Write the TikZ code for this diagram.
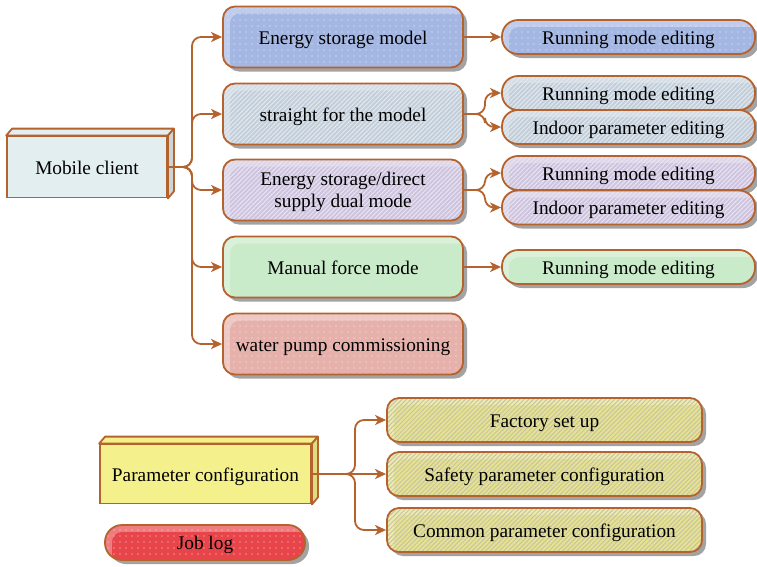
\documentclass[tikz,border=0pt]{standalone}
\usepackage{fontspec}
\setmainfont{Liberation Serif}
\usetikzlibrary{arrows.meta,shadows,patterns.meta,calc}

\definecolor{edge}{HTML}{B4622E}
\definecolor{clientfill}{HTML}{E3EEF0}
\definecolor{bluefill}{HTML}{A4B6E2}
\definecolor{grayfill}{HTML}{C2CEDA}
\definecolor{lilacfill}{HTML}{CEC4DF}
\definecolor{greenfill}{HTML}{C9EBC9}
\definecolor{pinkfill}{HTML}{E6B0AB}
\definecolor{paramfill}{HTML}{F4F08C}
\definecolor{olivefill}{HTML}{E6E290}
\definecolor{olivestripe}{HTML}{C6C4A2}
\definecolor{redfill}{HTML}{E8454A}

\begin{document}
\begin{tikzpicture}[x=1pt,y=-1pt,
  every node/.style={font=\fontsize{19.3}{22}\selectfont, text=black, text height=18.5pt, text depth=4.5pt},
  conn/.style={draw=edge, line width=1.8pt, rounded corners=9pt},
  arr/.style={conn, -{Stealth[length=11pt,width=10pt,inset=3pt]}},
  boxshadow/.style={drop shadow={shadow xshift=4pt, shadow yshift=-4pt, fill=black!36, opacity=1}},
  % bevelled fill: light rim at top/left, main colour inside
  dotted fill/.style={fill=#1!70!white,
    path picture={
      \fill[#1, rounded corners=10pt] ($(path picture bounding box.north west)+(7,7)$) rectangle ($(path picture bounding box.south east)+(4,4)$);
      \fill[pattern={Dots[distance=6pt,radius=0.55pt]}, pattern color=white!80!#1] (path picture bounding box.north west) rectangle (path picture bounding box.south east);
    }},
  striped fill/.style 2 args={fill=#1!70!white,
    path picture={
      \fill[#1, rounded corners=10pt] ($(path picture bounding box.north west)+(7,7)$) rectangle ($(path picture bounding box.south east)+(4,4)$);
      \fill[pattern={Lines[angle=45,distance=3.2pt,line width=1pt]}, pattern color=#2] (path picture bounding box.north west) rectangle (path picture bounding box.south east);
    }},
  plain fill/.style={fill=#1!70!white,
    path picture={
      \fill[#1, rounded corners=10pt] ($(path picture bounding box.north west)+(7,7)$) rectangle ($(path picture bounding box.south east)+(4,4)$);
    }},
  modebox/.style={draw=edge, line width=1.8pt, rounded corners=12pt, minimum width=240pt, minimum height=61pt, align=center, boxshadow},
  editbox/.style={draw=edge, line width=1.8pt, rounded corners=16pt, minimum width=253pt, minimum height=34pt, boxshadow},
  configbox/.style={draw=edge, line width=1.8pt, rounded corners=12pt, minimum width=315pt, minimum height=44pt, boxshadow},
  frontface/.style={draw=edge, line width=1.8pt, fill=#1},
  sideface/.style={draw=edge, line width=1.8pt, fill=#1, line join=round},
]
\useasboundingbox (0,0) rectangle (757,566);

% ---- mobile client (block) ----
\node[frontface=clientfill, minimum width=160pt, minimum height=61pt] (mc) at (87,167) {Mobile client};
\draw[sideface=clientfill] (mc.north west) -- ++(6,-7) -- ($(mc.north east)+(6,-7)$) -- (mc.north east) -- cycle;
\draw[sideface=clientfill!90!black] (mc.north east) -- ++(6,-7) -- ($(mc.south east)+(6,-7)$) -- (mc.south east) -- cycle;

% ---- operating modes ----
\node[modebox, dotted fill=bluefill] (m1) at (343,37) {Energy storage model};
\node[modebox, striped fill={grayfill}{white!55!grayfill}] (m2) at (343,114) {straight for the model};
\node[modebox, striped fill={lilacfill}{white!55!lilacfill}, text height=39.5pt, text depth=4.5pt] (m3) at (343,190) {Energy storage/direct\\supply dual mode};
\node[modebox, plain fill=greenfill] (m4) at (343,267) {Manual force mode};
\node[modebox, dotted fill=pinkfill] (m5) at (343,344) {water pump commissioning};

% ---- editing pages ----
\node[editbox, dotted fill=bluefill] (e1) at (628.5,37) {Running mode editing};
\node[editbox, striped fill={grayfill}{white!55!grayfill}] (e2a) at (628.5,93) {Running mode editing};
\node[editbox, striped fill={grayfill}{white!55!grayfill}] (e2b) at (628.5,127) {Indoor parameter editing};
\node[editbox, striped fill={lilacfill}{white!55!lilacfill}] (e3a) at (628.5,173) {Running mode editing};
\node[editbox, striped fill={lilacfill}{white!55!lilacfill}] (e3b) at (628.5,207.5) {Indoor parameter editing};
\node[editbox, plain fill=greenfill] (e4) at (628.5,267) {Running mode editing};

% ---- connectors from the client ----
\coordinate (jc) at (192,167);
\foreach \t in {m1,m2,m3,m4,m5}
  \draw[arr] (mc.east) -- (jc) |- (\t.west);
\draw[arr] (m1.east) -- (e1.west);
\coordinate (j2) at (485,114);
\draw[arr] (m2.east) -- (j2) |- (e2a.west);
\draw[arr] (m2.east) -- (j2) |- (e2b.west);
\coordinate (j3) at (485,190);
\draw[arr] (m3.east) -- (j3) |- (e3a.west);
\draw[arr] (m3.east) -- (j3) |- (e3b.west);
\draw[arr] (m4.east) -- (e4.west);

% ---- parameter configuration (block) ----
\node[frontface=paramfill, minimum width=211pt, minimum height=59pt] (pc) at (205.5,474) {Parameter configuration};
\draw[sideface=paramfill] (pc.north west) -- ++(6,-7) -- ($(pc.north east)+(6,-7)$) -- (pc.north east) -- cycle;
\draw[sideface=paramfill!92!black] (pc.north east) -- ++(6,-7) -- ($(pc.south east)+(6,-7)$) -- (pc.south east) -- cycle;

\node[configbox, striped fill={olivefill}{olivestripe}] (c1) at (544.5,420) {Factory set up};
\node[configbox, striped fill={olivefill}{olivestripe}] (c2) at (544.5,474) {Safety parameter configuration};
\node[configbox, striped fill={olivefill}{olivestripe}] (c3) at (544.5,530) {Common parameter configuration};

\coordinate (jp) at (355,474);
\draw[arr] (pc.east) -- (jp) |- (c1.west);
\draw[arr] (pc.east) -- (c2.west);
\draw[arr] (pc.east) -- (jp) |- (c3.west);

% ---- job log ----
\node[draw=edge, line width=1.8pt, rounded corners=17pt, minimum width=200pt, minimum height=35pt, boxshadow, dotted fill=redfill] (jl) at (205,542.5) {Job log};
\end{tikzpicture}
\end{document}
